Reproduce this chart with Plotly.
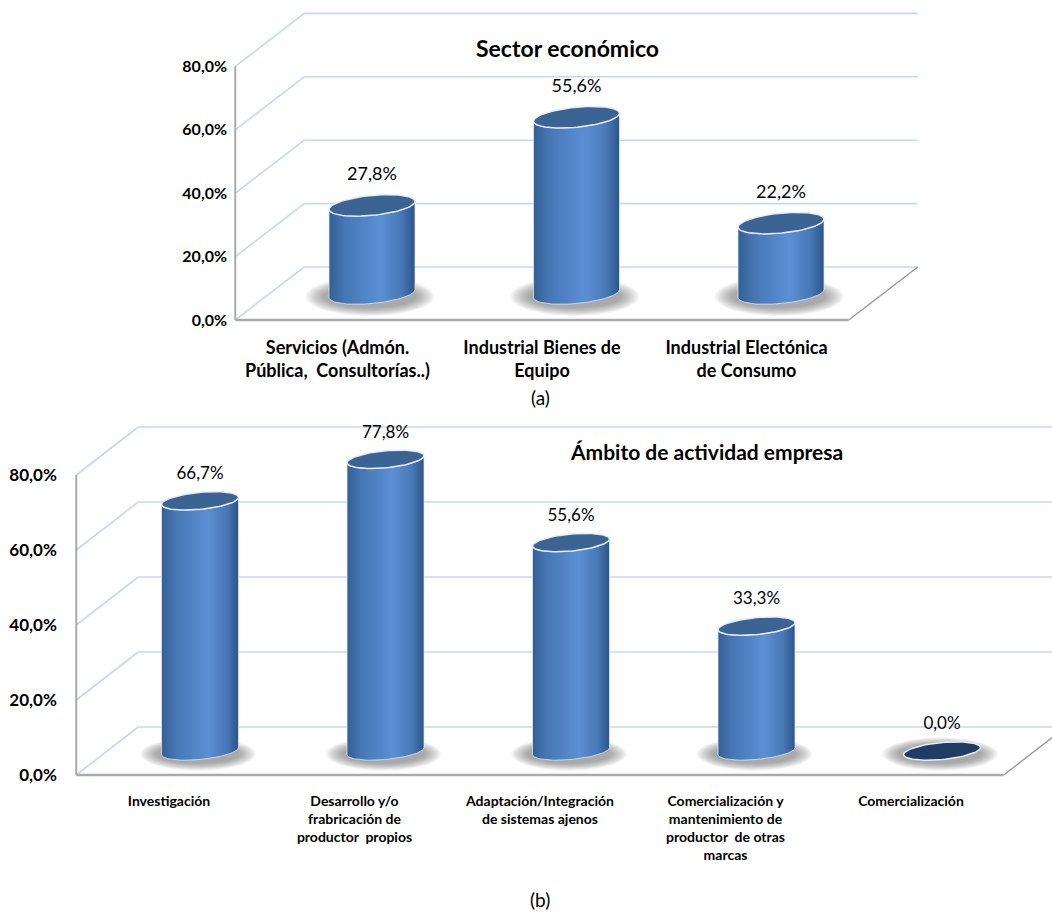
import numpy as np
import plotly.graph_objects as go

W, H = 1052, 913

# ---------------- data ----------------
sector_title = "Sector económico"
sector_categories = ["Servicios (Admón.<br>Pública,  Consultorías..)",
                     "Industrial Bienes de<br>Equipo",
                     "Industrial Electónica<br>de Consumo"]
sector_values = [27.8, 55.6, 22.2]

ambito_title = "Ámbito de actividad empresa"
ambito_categories = ["Investigación",
                     "Desarrollo y/o<br>frabricación de<br>productor  propios",
                     "Adaptación/Integración<br>de sistemas ajenos",
                     "Comercialización y<br>mantenimiento de<br>productor  de otras<br>marcas",
                     "Comercialización"]
ambito_values = [66.7, 77.8, 55.6, 33.3, 0.0]

y_ticks = [0, 20, 40, 60, 80]


def pct(v):
    return f"{v:.1f}".replace(".", ",") + "%"


FONT = "Lato"
GRID = "#c6d8ef"
EDGE = "#aaaaaa"

# ---------------- layout geometry (pixels) ----------------
charts = [
    dict(title=sector_title, cats=sector_categories, vals=sector_values,
         xa="xaxis", ya="yaxis", xr="x", yr="y",
         cx0=372, sx=204.5, y0=293.5, ky=3.17, ddx=34.5, ddy=26.5,
         dom=(5, 338), rx=43, ry=10, sh=4, gap=30,
         ytick_len=5, xtick_len=11, ytick_size=16, xtick_size=18,
         label_size=18, title_px=(567, 48), title_size=23,
         sub="(a)", sub_px=(540, 397)),
    dict(title=ambito_title, cats=ambito_categories, vals=ambito_values,
         xa="xaxis2", ya="yaxis2", xr="x2", yr="y2",
         cx0=200, sx=185.5, y0=751, ky=3.75, ddx=31, ddy=24,
         dom=(415, 792), rx=38.5, ry=8.5, sh=3.5, gap=26,
         ytick_len=16, xtick_len=13, ytick_size=17, xtick_size=14,
         label_size=17, title_px=(706, 452), title_size=21,
         sub="(b)", sub_px=(540, 899)),
]

fig = go.Figure()
shapes = []
annotations = []
layout_axes = {}

body_scale = [[0, "#335f94"], [0.18, "#4676b4"], [0.6, "#5b90d4"],
              [0.85, "#4777b5"], [1, "#2c5588"]]

for c in charts:
    sx, ky = c["sx"], c["ky"]
    n = len(c["vals"])
    fx, fy = c["ddx"] / sx, c["ddy"] / ky
    py_top, py_bot = c["dom"]
    xrange_ = [(0 - c["cx0"]) / sx, (W - c["cx0"]) / sx]
    yrange_ = [(c["y0"] - py_bot) / ky, (c["y0"] - py_top) / ky]
    xl, xrt = -0.5, n - 0.5
    front_left_px = c["cx0"] + (xl - fx) * sx
    front_floor_py = c["y0"] + c["ddy"]

    layout_axes[c["xa"]] = dict(
        domain=[0, 1], range=xrange_, anchor="free", position=1 - front_floor_py / H,
        showgrid=False, zeroline=False, showline=False,
        tickmode="array", tickvals=[i - fx for i in range(n)], ticktext=c["cats"],
        ticks="outside", ticklen=c["xtick_len"], tickcolor="rgba(0,0,0,0)",
        tickfont=dict(family=FONT, size=c["xtick_size"], color="#000000", weight="bold"),
        fixedrange=True)
    layout_axes[c["ya"]] = dict(
        domain=[1 - py_bot / H, 1 - py_top / H], range=yrange_, anchor="free",
        position=front_left_px / W,
        showgrid=False, zeroline=False, showline=False,
        tickmode="array", tickvals=[v - fy for v in y_ticks], ticktext=[pct(v) for v in y_ticks],
        ticks="outside", ticklen=c["ytick_len"], tickcolor="rgba(0,0,0,0)",
        tickfont=dict(family=FONT, size=c["ytick_size"], color="#000000", weight="bold"),
        fixedrange=True)

    def front(x, v):
        return x - fx, v - fy

    def back(x, v):
        return x + fx, v + fy

    def line(p0, p1, color, width):
        shapes.append(dict(type="line", xref=c["xr"], yref=c["yr"], x0=p0[0], y0=p0[1],
                           x1=p1[0], y1=p1[1], line=dict(color=color, width=width), layer="below"))

    for v in y_ticks:
        line(back(xl, v), back(xrt, v), GRID, 1.6)
        line(front(xl, v), back(xl, v), GRID, 1.6)
    line(front(xl, 0), front(xl, y_ticks[-1]), EDGE, 2)
    line(front(xrt, 0), back(xrt, 0), "#999999", 1.4)
    line(front(xl, 0), front(xrt, 0), EDGE, 2.5)

    rxd, ryd, shd = c["rx"] / sx, c["ry"] / ky, c["sh"] / ky
    t_full = np.linspace(0, 2 * np.pi, 90)
    t_low = np.linspace(np.pi, 2 * np.pi, 45)

    # soft shadows (stacked translucent ellipses)
    layers = 10
    for k in range(layers):
        f = k / (layers - 1)
        grow_x = 1.5 - 0.42 * f
        grow_y = 1.95 - 0.8 * f
        xs, ys = [], []
        for i in range(n):
            xs += list(i - 2 / sx + rxd * grow_x * np.cos(t_full)) + [None]
            ys += list(-3 / ky + ryd * grow_y * np.sin(t_full)) + [None]
        fig.add_trace(go.Scatter(x=xs, y=ys, xaxis=c["xr"], yaxis=c["yr"], mode="lines",
                                 fill="toself", fillcolor="rgba(90,90,90,0.065)",
                                 line=dict(width=0), hoverinfo="skip", showlegend=False))

    # cylinder bodies
    for i, v in enumerate(c["vals"]):
        if v <= 0:
            continue
        top_x = i + rxd * np.cos(t_low)
        top_y = v + ryd * np.sin(t_low) + shd * np.cos(t_low)
        bot_x = (i + rxd * np.cos(t_low))[::-1]
        bot_y = (ryd * np.sin(t_low) + shd * np.cos(t_low))[::-1]
        xs = [i - rxd] + list(top_x) + list(bot_x) + [i - rxd]
        ys = [-shd] + list(top_y) + list(bot_y) + [-shd]
        fig.add_trace(go.Scatter(x=xs, y=ys, xaxis=c["xr"], yaxis=c["yr"], mode="lines",
                                 fill="toself",
                                 fillgradient=dict(type="horizontal", colorscale=body_scale),
                                 line=dict(width=1, color="rgba(225,235,248,0.75)"),
                                 hoverinfo="skip", showlegend=False))

    # top faces
    for i, v in enumerate(c["vals"]):
        xs = i + rxd * np.cos(t_full)
        ys = v + ryd * np.sin(t_full) + shd * np.cos(t_full)
        fig.add_trace(go.Scatter(x=xs, y=ys, xaxis=c["xr"], yaxis=c["yr"], mode="lines",
                                 fill="toself",
                                 fillcolor="#3b6394" if v > 0 else "#213d64",
                                 line=dict(width=1.5, color="#e4ecf7"),
                                 hoverinfo="skip", showlegend=False))

    # value labels
    fig.add_trace(go.Scatter(x=list(range(n)), y=[v + c["gap"] / ky for v in c["vals"]],
                             xaxis=c["xr"], yaxis=c["yr"], mode="text",
                             text=[pct(v) for v in c["vals"]],
                             textfont=dict(family=FONT, size=c["label_size"], color="#000000"),
                             hoverinfo="skip", showlegend=False))

    annotations.append(dict(xref="paper", yref="paper", x=c["title_px"][0] / W,
                            y=1 - c["title_px"][1] / H, text=c["title"], showarrow=False,
                            xanchor="center", yanchor="middle",
                            font=dict(family=FONT, size=c["title_size"], color="#000000",
                                      weight="bold")))
    annotations.append(dict(xref="paper", yref="paper", x=c["sub_px"][0] / W,
                            y=1 - c["sub_px"][1] / H, text=c["sub"], showarrow=False,
                            xanchor="center", yanchor="middle",
                            font=dict(family=FONT, size=19, color="#000000")))

fig.update_layout(width=W, height=H, autosize=False,
                  margin=dict(l=0, r=0, t=0, b=0, pad=0),
                  paper_bgcolor="white", plot_bgcolor="rgba(0,0,0,0)",
                  shapes=shapes, annotations=annotations, showlegend=False,
                  **layout_axes)

fig.write_html("out.html", config={"displayModeBar": False})
